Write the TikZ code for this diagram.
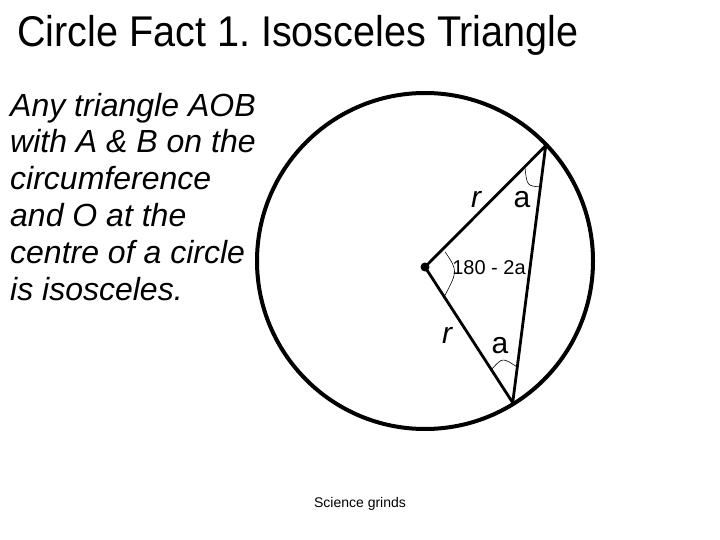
\documentclass[tikz,border=0pt]{standalone}
\usepackage{fontspec}
\setmainfont{Liberation Sans}
\usetikzlibrary{positioning}
\frenchspacing

\tikzset{
  side/.style={line width=2.8pt},
  angmark/.style={line width=0.6pt},
  lbl/.style={inner sep=0pt, font=\fontsize{30}{36}\selectfont},
}

\begin{document}
\begin{tikzpicture}[x=1pt,y=-1pt]
  \useasboundingbox (0,0) rectangle (720,540);

  \node[anchor=base west, inner sep=0pt, font=\fontsize{43}{50}\selectfont] (title) at (17,46.7)
    {\scalebox{0.92}[1]{Circle Fact 1. Isosceles Triangle}};

  % base anchor sits on the last line here
  \node[anchor=base west, inner sep=0pt, align=left,
        font=\fontsize{32}{36.8}\selectfont\itshape] (claim) at (10,300)
    {Any triangle AOB\\with A \& B on the\\circumference\\and O at the\\centre of a circle\\is isosceles.};

  % circle and triangle
  \coordinate (C) at (425,261);
  \coordinate (O) at (425,267);
  \coordinate (A) at (545.7,145.7);
  \coordinate (B) at (512.7,402.7);
  \draw[line width=4pt] (C) circle [radius=168pt];
  \draw[side, line join=round] (A) -- (O) -- (B) -- cycle;
  \fill (O) circle [radius=4.5pt];

  % angle marks
  \draw[angmark] (525,168) .. controls (527,185.9) .. (541,187);
  \draw[angmark] (445,251.7) .. controls (458,271) .. (443.3,298.3);
  \draw[angmark] (491.7,369.3) .. controls (502.4,357.4) .. (516.7,366.7);

  % labels
  \node[lbl, font=\fontsize{30}{36}\selectfont\itshape] (rOA) at (476,199) {r};
  \node[lbl] (aA) at (522,200) {a};
  \node[lbl, font=\fontsize{20}{24}\selectfont] (angO) at (489,268) {180 - 2a};
  \node[lbl, font=\fontsize{30}{36}\selectfont\itshape] (rOB) at (447,335) {r};
  \node[lbl] (aB) at (500,346) {a};

  \node[inner sep=0pt, font=\fontsize{14}{16}\selectfont] (credit) at (360,504) {Science grinds};
\end{tikzpicture}
\end{document}
